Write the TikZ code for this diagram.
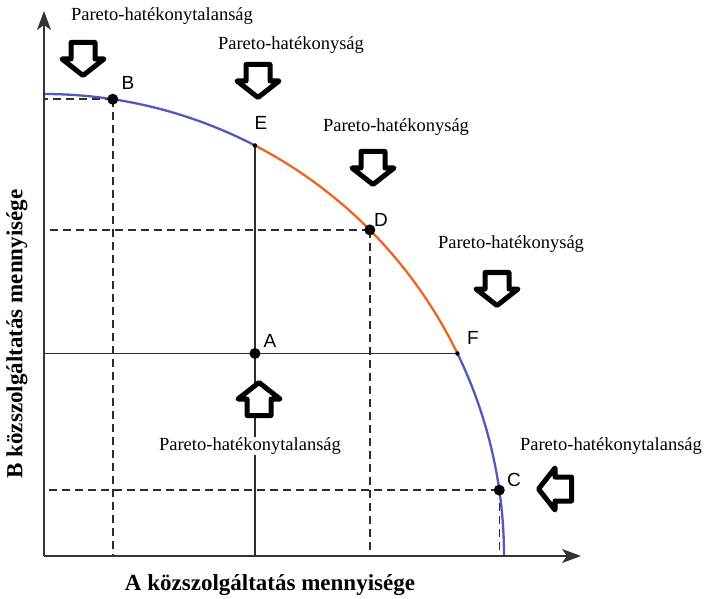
\documentclass[tikz,border=0pt]{standalone}
\usepackage{fontspec}
\setmainfont{Liberation Serif}
\newfontfamily\lettfont{Liberation Sans}
\usetikzlibrary{calc,arrows.meta}
\definecolor{curveblue}{RGB}{80,90,190}
\definecolor{curveorange}{RGB}{240,100,30}
\definecolor{guide}{RGB}{45,45,45}
\tikzset{
 bigdot/.style={circle,fill=black,inner sep=0pt,minimum size=11pt},
 smalldot/.style={circle,fill=black,inner sep=0pt,minimum size=4.5pt},
 ptlabel/.style={font=\lettfont\fontsize{19}{19}\selectfont,inner sep=0pt},
 ptext/.style={font=\fontsize{18.5}{20}\selectfont,inner sep=1pt},
 axlabel/.style={font=\bfseries\fontsize{23}{24}\selectfont,inner sep=0pt},
 guideline/.style={guide,line width=1.5pt,dash pattern=on 8pt off 5pt},
 solidline/.style={guide,line width=1.3pt},
 axisline/.style={black!80,line width=1.5pt,-{Stealth[length=19pt,width=14pt,inset=5pt]}},
 curve/.style={line width=2.3pt},
 fatarrow/.pic={\draw[line width=5pt,line join=round,fill=white] (-12,-16.5)--(12,-16.5)--(12,0)--(21,0)--(0,16.5)--(-21,0)--(-12,0)--cycle;}
}
\begin{document}
\begin{tikzpicture}[x=1pt,y=-1pt]
\useasboundingbox (0,0) rectangle (705,599);
% axes
\coordinate (O) at (44,556);
\coordinate (ytip) at (44,11);
\coordinate (xtip) at (581,556);
\coordinate (top) at (44,94);
% points on the frontier
\coordinate (Bp) at ($(O)+(81.4:460pt and 462pt)$);
\coordinate (Ep) at ($(O)+(62.7:460pt and 462pt)$);
\coordinate (Dp) at ($(O)+(44.9:460pt and 462pt)$);
\coordinate (Fp) at ($(O)+(26.0:460pt and 462pt)$);
\coordinate (Cp) at ($(O)+(8.2:460pt and 462pt)$);
\coordinate (Ap) at (Ep |- Fp);
% guide lines
\draw[guideline] (Bp) -- (Bp -| O);
\draw[guideline] (Bp) -- (Bp |- O);
\draw[guideline] (Dp) -- (Dp -| O);
\draw[guideline] (Dp) -- (Dp |- O);
\draw[guideline] (Cp) -- (Cp -| O);
\draw[guideline] (Cp) -- (Cp |- O);
\draw[solidline] (Ep) -- (Ep |- O);
\draw[solidline] (Fp) -- (Fp -| O);
% frontier
\draw[curve,curveblue] (top) arc[start angle=90,end angle=62.7,x radius=460pt,y radius=462pt];
\draw[curve,curveorange] (Ep) arc[start angle=62.7,end angle=26.0,x radius=460pt,y radius=462pt];
\draw[curve,curveblue] (Fp) arc[start angle=26.0,end angle=0,x radius=460pt,y radius=462pt];
% axes
\draw[axisline] (O) -- (ytip);
\draw[axisline] (O) -- (xtip);
% dots
\node[bigdot] (B) at (Bp) {};
\node[bigdot] (D) at (Dp) {};
\node[bigdot] (C) at (Cp) {};
\node[bigdot] (A) at (Ap) {};
\node[smalldot] (E) at (Ep) {};
\node[smalldot] (F) at (Fp) {};
% point labels
\node[ptlabel] (Bl) at (128,83) {B};
\node[ptlabel] (El) at (261,123) {E};
\node[ptlabel] (Dl) at (381,220) {D};
\node[ptlabel] (Al) at (270,341) {A};
\node[ptlabel] (Fl) at (473,338) {F};
\node[ptlabel] (Cl) at (514,480) {C};
% block arrows
\pic at (83,59) {fatarrow};
\pic at (258,81) {fatarrow};
\pic at (373,168) {fatarrow};
\pic at (497,289) {fatarrow};
\pic[rotate=180] at (259,399) {fatarrow};
\pic[rotate=-90] at (555,489) {fatarrow};
% texts
\node[ptext] (t1) at (162,16) {Pareto-hatékonytalanság};
\node[ptext] (t2) at (291,45) {Pareto-hatékonyság};
\node[ptext] (t3) at (396,127) {Pareto-hatékonyság};
\node[ptext] (t4) at (511,244) {Pareto-hatékonyság};
\node[ptext,fill=white] (t5) at (250,446) {Pareto-hatékonytalanság};
\node[ptext] (t6) at (611,446) {Pareto-hatékonytalanság};
% axis labels
\node[axlabel] (xl) at (270,585) {A közszolgáltatás mennyisége};
\node[axlabel,rotate=90] (yl) at (17,334) {B közszolgáltatás mennyisége};
\end{tikzpicture}
\end{document}
